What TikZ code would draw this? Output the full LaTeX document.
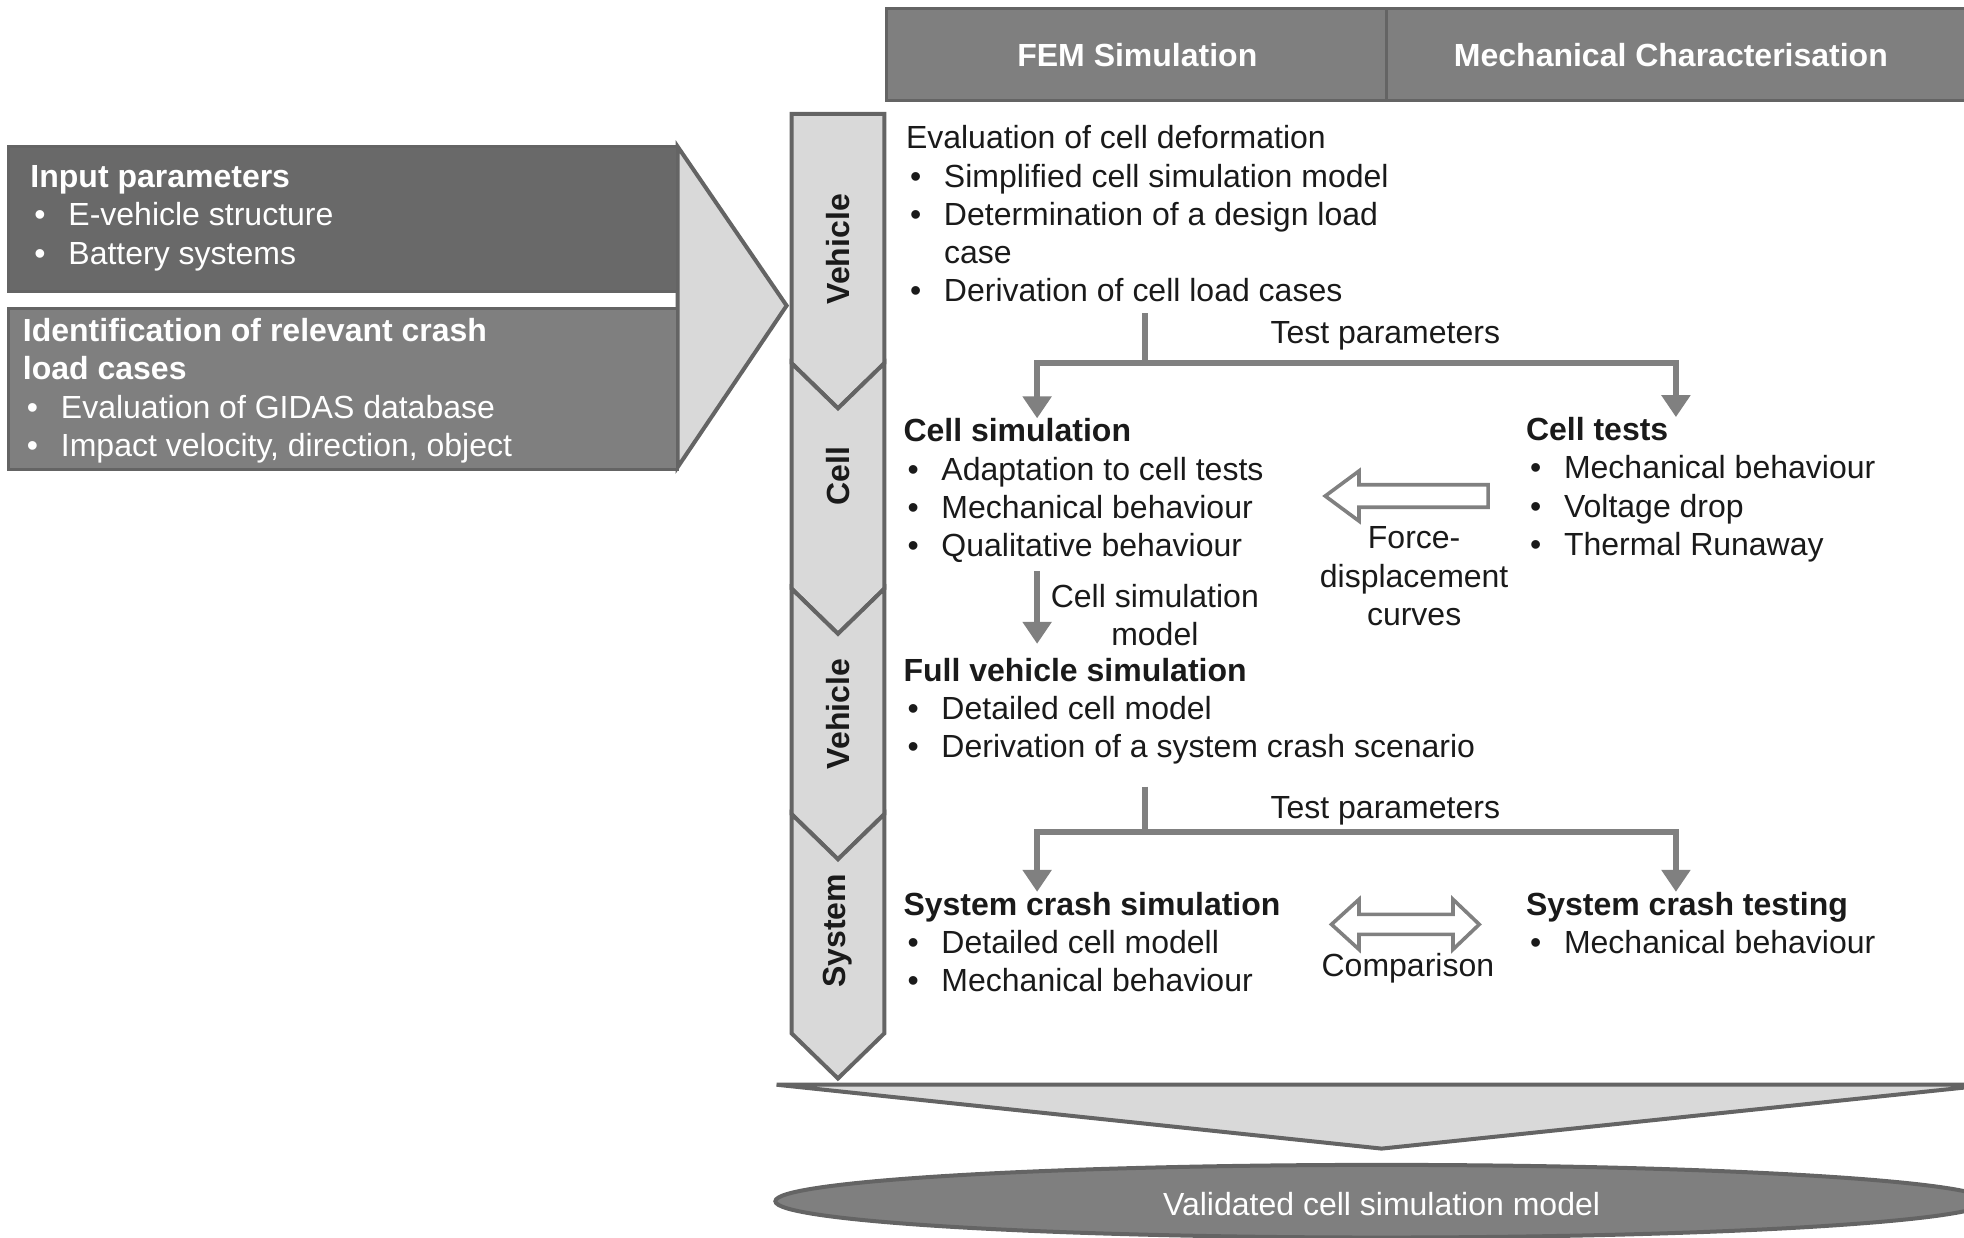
\documentclass[tikz,border=0pt]{standalone}
\usepackage{fontspec}
\setmainfont{Liberation Sans}
\usetikzlibrary{arrows.meta}
\definecolor{edgegray}{HTML}{646464}
\definecolor{darkbox}{HTML}{696969}
\definecolor{midbox}{HTML}{7F7F7F}
\definecolor{lightbox}{HTML}{D9D9D9}
\definecolor{flowgray}{HTML}{808080}
\definecolor{ink}{HTML}{1A1A1A}
\newcommand{\itm}{\makebox[19pt][l]{\hspace{2pt}•}}
\newcommand{\cnt}{\hspace*{19pt}}

\begin{document}
\begin{tikzpicture}[x=0.6263pt,y=-0.6263pt,
  txt/.style={anchor=north west,inner sep=0pt,align=left,text=ink,font=\fontsize{16}{19.1}\selectfont},
  lbl/.style={inner sep=0pt,align=center,text=ink,font=\fontsize{16}{19.1}\selectfont},
  vlbl/.style={lbl,rotate=90,font=\fontsize{16}{19.1}\selectfont\bfseries},
  band/.style={fill=lightbox,draw=edgegray,line width=2pt},
  boxed/.style={draw=edgegray,line width=1.6pt},
  flow/.style={draw=flowgray,line width=3pt},
  flowarr/.style={flow,-{Triangle[width=14pt,length=11pt]}},
  hollow/.style={draw=flowgray,line width=1.8pt,fill=white}]

\useasboundingbox (0,0) rectangle (1568,988);
\clip (0,0) rectangle (1568,988);

% header
\draw[boxed,fill=midbox] (708,7) rectangle (1107,80);
\draw[boxed,fill=midbox] (1107,7) rectangle (1580,80);
\node[lbl,text=white,font=\fontsize{16}{19.1}\selectfont\bfseries] (fem) at (908,44) {FEM Simulation};
\node[lbl,text=white,font=\fontsize{16}{19.1}\selectfont\bfseries] (mech) at (1334,44) {Mechanical Characterisation};

% input side
\draw[band] (541,117) -- (628,244) -- (541,373) -- cycle;
\draw[boxed,fill=darkbox] (7,117) rectangle (541,233);
\draw[boxed,fill=midbox] (7,246) rectangle (541,375);
\node[txt,text=white] (inpar) at (24,132) {\textbf{Input parameters}\\
  \itm E-vehicle structure\\
  \itm Battery systems};
\node[txt,text=white] (ident) at (18,254) {\textbf{Identification of relevant crash}\\
  \textbf{load cases}\\
  \itm Evaluation of GIDAS database\\
  \itm Impact velocity, direction, object};

% level column
\draw[band] (632,91) -- (706,91) -- (706,290) -- (669,326) -- (632,290) -- cycle;
\foreach \ya/\yb in {290/470,470/650,650/825}
  \draw[band] (632,\ya) -- (669,\ya+36) -- (706,\ya) -- (706,\yb) -- (669,\yb+36) -- (632,\yb) -- cycle;
\node[vlbl] (vehA) at (669,199) {Vehicle};
\node[vlbl] (cellA) at (669,380) {Cell};
\node[vlbl] (vehB) at (669,570) {Vehicle};
\node[vlbl] (sysA) at (669,743) {System};

% result
\draw[band] (620,866) -- (1590,866) -- (1103,917) -- cycle;
\draw[boxed,line width=2pt,fill=midbox] (1103,959) ellipse [x radius=484,y radius=29];
\node[lbl,text=white] (valid) at (1103,961) {Validated cell simulation model};

% steps
\node[txt] (evalblk) at (723,100) {Evaluation of cell deformation\\
  \itm Simplified cell simulation model\\
  \itm Determination of a design load\\
  \cnt case\\
  \itm Derivation of cell load cases};
\node[txt] (cellsim) at (721,334) {\textbf{Cell simulation}\\
  \itm Adaptation to cell tests\\
  \itm Mechanical behaviour\\
  \itm Qualitative behaviour};
\node[txt] (celltest) at (1218,333) {\textbf{Cell tests}\\
  \itm Mechanical behaviour\\
  \itm Voltage drop\\
  \itm Thermal Runaway};
\node[txt] (fullveh) at (721,525) {\textbf{Full vehicle simulation}\\
  \itm Detailed cell model\\
  \itm Derivation of a system crash scenario};
\node[txt] (syssim) at (721,712) {\textbf{System crash simulation}\\
  \itm Detailed cell modell\\
  \itm Mechanical behaviour};
\node[txt] (systest) at (1218,712) {\textbf{System crash testing}\\
  \itm Mechanical behaviour};

\node[lbl] (tp1) at (1106,268) {Test parameters};
\node[lbl] (tp2) at (1106,647) {Test parameters};
\node[lbl] (fdc) at (1129,460) {Force-\\displacement\\curves};
\node[lbl] (csm) at (922,491) {Cell simulation\\model};
\node[lbl] (cmp) at (1124,773) {Comparison};

% connectors
\coordinate (t1) at (914,250);
\coordinate (j1) at (914,290);
\coordinate (j1l) at (828,290);
\coordinate (j1r) at (1338,290);
\draw[flow] (t1) -- (j1);
\draw[flowarr] (j1) -| (cellsim.north -| j1l);
\draw[flowarr] (j1) -| (celltest.north -| j1r);

\coordinate (c1) at (828,456);
\coordinate (c2) at (828,514);
\draw[flowarr] (c1) -- (c2);

\coordinate (t2) at (914,628);
\coordinate (j2) at (914,664);
\coordinate (j2l) at (828,664);
\coordinate (j2r) at (1338,664);
\draw[flow] (t2) -- (j2);
\draw[flowarr] (j2) -| (syssim.north -| j2l);
\draw[flowarr] (j2) -| (systest.north -| j2r);

\draw[hollow] (1188,387) -- (1085,387) -- (1085,376) -- (1058,396) -- (1085,416) -- (1085,405) -- (1188,405) -- cycle;
\draw[hollow] (1063,738) -- (1085,718) -- (1085,730) -- (1160,730) -- (1160,718) -- (1181,738)
  -- (1160,758) -- (1160,746) -- (1085,746) -- (1085,758) -- cycle;

\end{tikzpicture}
\end{document}
